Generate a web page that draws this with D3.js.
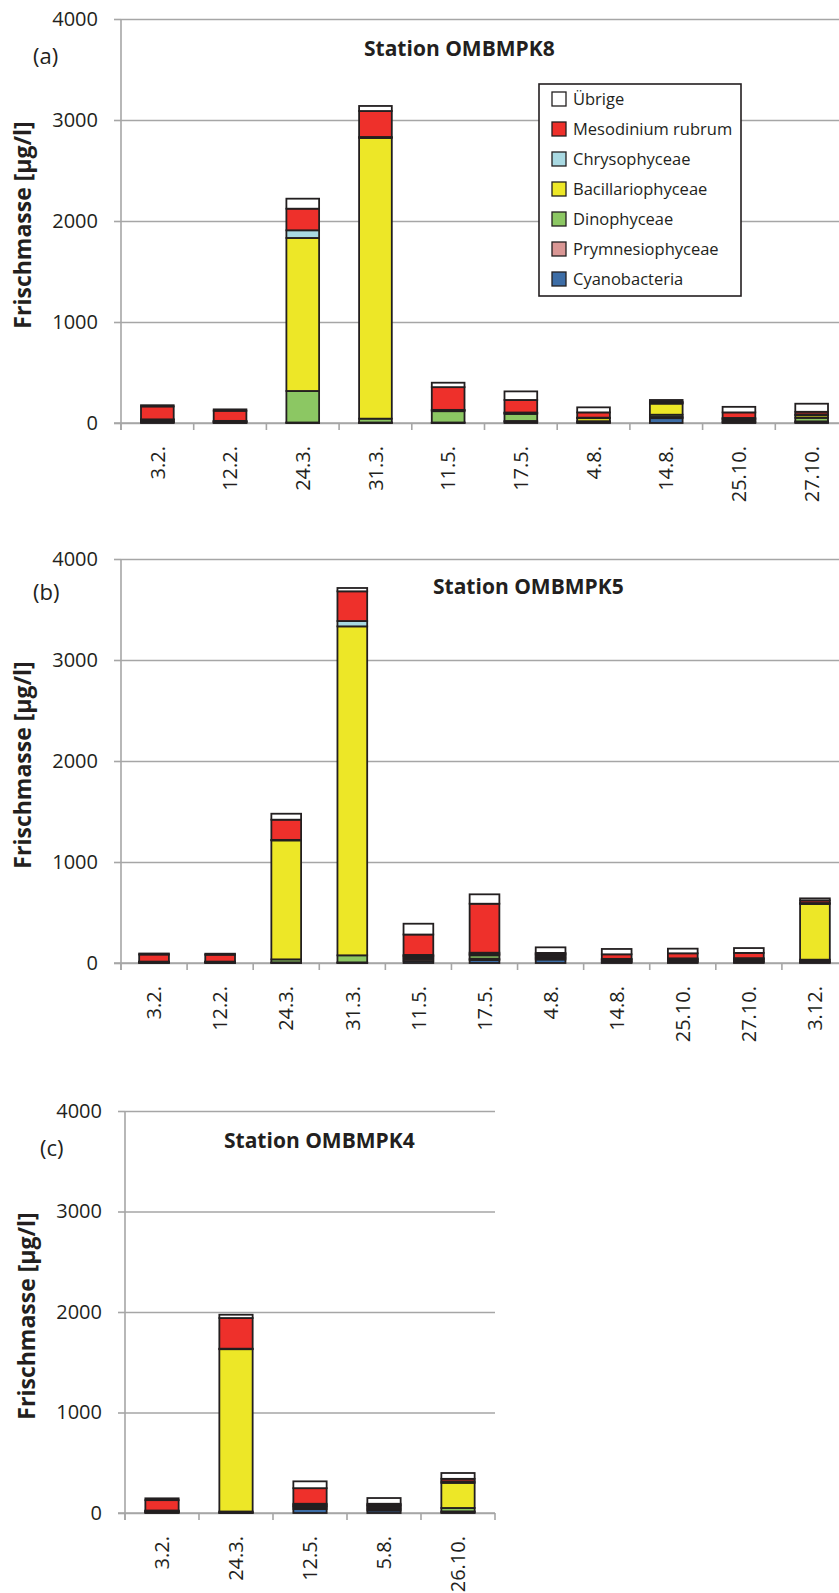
<!DOCTYPE html>
<html>
<head>
<meta charset="utf-8">
<script src="https://cdn.jsdelivr.net/npm/d3@7"></script>
<style>
  body { margin: 0; background: #fff; }
  text { font-family: "Open Sans", sans-serif; fill: #231f20; }
</style>
</head>
<body>
<script>
// series (bottom to top) and their colours
var seriesNames = ["Cyanobacteria", "Prymnesiophyceae", "Dinophyceae", "Bacillariophyceae", "Chrysophyceae", "Mesodinium rubrum", "Übrige"];
var seriesColors = ["#3d6da6", "#d99694", "#8cc763", "#ede727", "#a9d9e2", "#ee302b", "#ffffff"];
var yTicks = [0, 1000, 2000, 3000, 4000];

// Station OMBMPK8 (a)
var datesA = ["3.2.", "12.2.", "24.3.", "31.3.", "11.5.", "17.5.", "4.8.", "14.8.", "25.10.", "27.10."];
var cyanoA = [8, 4, 3, 3, 3, 12, 5, 48, 6, 8];
var prymA = [4, 3, 2, 2, 2, 8, 5, 12, 8, 8];
var dinoA = [10, 6, 312, 38, 112, 70, 8, 22, 18, 35];
var bacilA = [12, 6, 1515, 2779, 10, 10, 30, 110, 10, 25];
var chrysoA = [2, 2, 76, 10, 3, 4, 5, 8, 8, 10];
var mesoA = [128, 100, 214, 257, 225, 124, 52, 10, 55, 25];
var uebrigA = [12, 14, 99, 50, 44, 85, 50, 18, 55, 80];

// Station OMBMPK5 (b)
var datesB = ["3.2.", "12.2.", "24.3.", "31.3.", "11.5.", "17.5.", "4.8.", "14.8.", "25.10.", "27.10.", "3.12."];
var cyanoB = [3, 3, 3, 3, 20, 30, 35, 8, 10, 10, 8];
var prymB = [3, 3, 3, 3, 20, 13, 15, 8, 8, 8, 8];
var dinoB = [3, 3, 30, 70, 18, 33, 15, 10, 12, 12, 17];
var bacilB = [3, 3, 1178, 3257, 12, 12, 15, 10, 8, 10, 551];
var chrysoB = [2, 2, 5, 53, 10, 14, 10, 5, 8, 8, 10];
var mesoB = [70, 68, 200, 294, 202, 485, 10, 45, 50, 52, 25];
var uebrigB = [10, 10, 59, 33, 107, 93, 55, 53, 46, 48, 21];

// Station OMBMPK4 (c)
var datesC = ["3.2.", "24.3.", "12.5.", "5.8.", "26.10."];
var cyanoC = [5, 3, 40, 25, 8];
var prymC = [5, 2, 18, 15, 8];
var dinoC = [5, 10, 10, 15, 34];
var bacilC = [5, 1615, 12, 15, 250];
var chrysoC = [5, 5, 12, 10, 15];
var mesoC = [103, 305, 155, 12, 25];
var uebrigC = [18, 33, 68, 57, 58];

var svg = d3.select("body")
  .append("svg")
  .attr("width", 839)
  .attr("height", 1593);

function drawPanel(p) {
  var g = svg.append("g")
    .attr("transform", `translate(${p.left}, ${p.top})`);

  // build rows for the stack
  var rows = p.dates.map(function(d, i) {
    var row = { date: d };
    seriesNames.forEach(function(s, k) { row[s] = p.series[k][i]; });
    return row;
  });
  var stacked = d3.stack().keys(seriesNames)(rows);

  var x = d3.scaleBand()
    .domain(p.dates)
    .range([0, p.width])
    .paddingInner(0.55)
    .paddingOuter(0.275);

  var y = d3.scaleLinear()
    .domain([0, 4000])
    .range([p.height, 0]);

  // gridlines
  g.append("g")
    .call(d3.axisLeft(y).tickValues(yTicks).tickSize(-p.width).tickFormat(""))
    .call(s => s.select(".domain").remove())
    .call(s => s.selectAll("line").attr("stroke", "#a6a6a6").attr("stroke-width", 1.6));

  // y axis with outside ticks
  g.append("g")
    .call(d3.axisLeft(y).tickValues(yTicks).tickFormat(d3.format("d"))
      .tickSize(7).tickPadding(16).tickSizeOuter(0))
    .call(s => s.select(".domain").attr("stroke", "#a6a6a6").attr("stroke-width", 1.6)
      .attr("d", `M0,${p.height + 7}V0`))
    .call(s => s.selectAll("line").attr("stroke", "#a6a6a6").attr("stroke-width", 1.6))
    .call(s => s.selectAll("text").attr("font-size", 20).attr("fill", "#231f20")
      .style("font-family", '"Open Sans", sans-serif'));

  // x axis line and boundary ticks
  var gap = (x.step() - x.bandwidth()) / 2;
  var bounds = p.dates.map(d => x(d) - gap).concat([p.width]);
  var xg = g.append("g").attr("transform", `translate(0, ${p.height})`);
  xg.append("line")
    .attr("x1", -7).attr("x2", p.width)
    .attr("stroke", "#a6a6a6").attr("stroke-width", 1.6);
  xg.selectAll(".bt")
    .data(bounds)
    .enter().append("line")
    .attr("x1", d => d).attr("x2", d => d)
    .attr("y1", 0).attr("y2", 7)
    .attr("stroke", "#a6a6a6").attr("stroke-width", 1.6);

  // rotated date labels
  xg.call(d3.axisBottom(x).tickSize(0).tickSizeOuter(0))
    .call(s => s.select(".domain").remove())
    .call(s => s.selectAll("text")
      .attr("font-size", 20)
      .attr("fill", "#231f20")
      .style("font-family", '"Open Sans", sans-serif')
      .attr("transform", "rotate(-90)")
      .attr("text-anchor", "end")
      .attr("x", -23)
      .attr("y", 0)
      .attr("dy", "0.36em"));

  // stacked bars
  g.selectAll(".layer")
    .data(stacked)
    .enter().append("g")
    .attr("fill", (d, i) => seriesColors[i])
    .selectAll("rect")
    .data(d => d)
    .enter().append("rect")
    .attr("x", d => x(d.data.date))
    .attr("width", x.bandwidth())
    .attr("y", d => y(d[1]))
    .attr("height", d => y(d[0]) - y(d[1]))
    .attr("stroke", "#231f20")
    .attr("stroke-width", 1.8);

  // y axis title
  g.append("text")
    .attr("transform", `translate(${p.ylabX}, ${p.height / 2 + 4}) rotate(-90)`)
    .attr("text-anchor", "middle")
    .attr("dy", "0.35em")
    .attr("font-size", 23)
    .attr("font-weight", "bold")
    .text("Frischmasse [µg/l]");

  // panel letter
  g.append("text")
    .attr("x", p.letterX)
    .attr("y", p.letterY)
    .attr("dy", "0.35em")
    .attr("font-size", 22)
    .text(p.letter);

  // title
  g.append("text")
    .attr("x", p.titleX)
    .attr("y", p.titleY)
    .attr("dy", "0.35em")
    .attr("font-size", 21)
    .attr("font-weight", "bold")
    .text(p.title);

  return g;
}

drawPanel({
  left: 121, top: 19, width: 727, height: 404,
  dates: datesA,
  series: [cyanoA, prymA, dinoA, bacilA, chrysoA, mesoA, uebrigA],
  title: "Station OMBMPK8", titleX: 243, titleY: 30,
  letter: "(a)", letterX: -88, letterY: 37, ylabX: -98
});

drawPanel({
  left: 121, top: 559, width: 727, height: 404,
  dates: datesB,
  series: [cyanoB, prymB, dinoB, bacilB, chrysoB, mesoB, uebrigB],
  title: "Station OMBMPK5", titleX: 312, titleY: 28,
  letter: "(b)", letterX: -88, letterY: 33, ylabX: -98
});

drawPanel({
  left: 125, top: 1111, width: 370, height: 402,
  dates: datesC,
  series: [cyanoC, prymC, dinoC, bacilC, chrysoC, mesoC, uebrigC],
  title: "Station OMBMPK4", titleX: 99, titleY: 30,
  letter: "(c)", letterX: -85, letterY: 37, ylabX: -98
});

// legend (panel a only)
var legend = svg.append("g").attr("transform", "translate(539, 84)");
legend.append("rect")
  .attr("width", 202).attr("height", 212)
  .attr("fill", "#fff")
  .attr("stroke", "#231f20").attr("stroke-width", 1.6);

var legendItems = seriesNames.slice().reverse();
var legendColors = seriesColors.slice().reverse();
var li = legend.selectAll(".li")
  .data(legendItems)
  .enter().append("g")
  .attr("transform", (d, i) => `translate(13, ${15 + i * 30})`);
li.append("rect")
  .attr("x", 0).attr("y", -7)
  .attr("width", 14).attr("height", 14)
  .attr("fill", (d, i) => legendColors[i])
  .attr("stroke", "#231f20").attr("stroke-width", 1.3);
li.append("text")
  .attr("x", 21)
  .attr("dy", "0.35em")
  .attr("font-size", 16.5)
  .text(d => d);
</script>
</body>
</html>
